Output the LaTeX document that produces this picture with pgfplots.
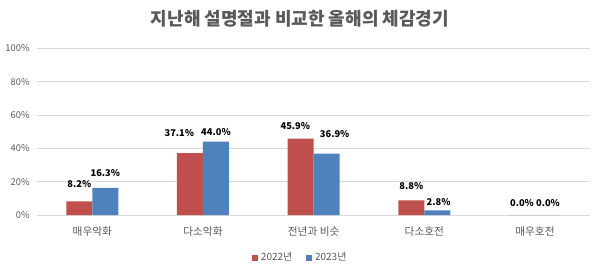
\documentclass[border=0pt]{standalone}
\usepackage{fontspec}
\setmainfont{Noto Sans CJK KR}
\usepackage{pgfplots}
\usepackage{pgfplotstable}
\pgfplotsset{compat=1.18}
\definecolor{cred}{HTML}{C0504D}
\definecolor{cblue}{HTML}{4F81BD}
\definecolor{ctext}{HTML}{595959}
\definecolor{cgrid}{HTML}{D9D9D9}
\pgfplotstableread{
x y dx dy
0 8.2 0 4
1 37.1 -8 6
2 45.9 -4 0
3 8.8 0 1.5
4 0.0 0 0
}\tdA
\pgfplotstableread{
x y dx dy
0 16.3 0 1.5
1 44.0 0 -2
2 36.9 6 5
3 2.8 1 -3
4 0.0 0 0
}\tdB
\begin{document}
\begin{tikzpicture}[x=1pt,y=1pt]
\useasboundingbox (0,0) rectangle (450,204);
\node[font=\fontsize{13.5}{15}\selectfont\bfseries, text=ctext] at (225,190) {지난해 설명절과 비교한 올해의 체감경기};
\begin{axis}[
  at={(27.75pt,42.75pt)}, anchor=south west,
  scale only axis, width=415pt, height=125pt,
  ybar=0pt, bar width=19.5pt,
  xmin=-0.5, xmax=4.5, ymin=0, ymax=100,
  xtick={0,1,2,3,4},
  xticklabels={매우악화,다소악화,전년과 비슷,다소호전,매우호전},
  ytick={0,20,40,60,80,100},
  yticklabel={\pgfmathprintnumber{\tick}\%},
  /pgf/number format/assume math mode=true,
  tick style={draw=none},
  axis line style={draw=none},
  ymajorgrids, grid style={cgrid, line width=0.6pt},
  ticklabel style={font=\fontsize{7}{8}\selectfont, text=ctext},
  xticklabel style={font=\fontsize{8}{9}\selectfont, text=ctext, yshift=-1pt},
  yticklabel style={xshift=-2pt},
  visualization depends on={\thisrow{dx}\as\dx},
  visualization depends on={\thisrow{dy}\as\dy},
  nodes near coords={\pgfmathprintnumber[fixed,fixed zerofill,precision=1]{\pgfplotspointmeta}\%},
  every node near coord/.append style={font=\fontsize{7}{8}\selectfont\bfseries, text=black, yshift=3pt+\dy pt, xshift=\dx pt},
  legend style={at={(0.476,-0.257)}, anchor=center, draw=none, legend columns=2,
    font=\fontsize{7.5}{8}\selectfont, text=ctext, /tikz/every even column/.append style={column sep=8pt}},
  legend image code/.code={\fill[#1] (0pt,-2.5pt) rectangle (5pt,2.5pt);},
]
\addplot[fill=cred, draw=none] table[x=x, y=y] {\tdA};
\addplot[fill=cblue, draw=none] table[x=x, y=y] {\tdB};
\legend{2022년,2023년}
\end{axis}
\end{tikzpicture}
\end{document}
